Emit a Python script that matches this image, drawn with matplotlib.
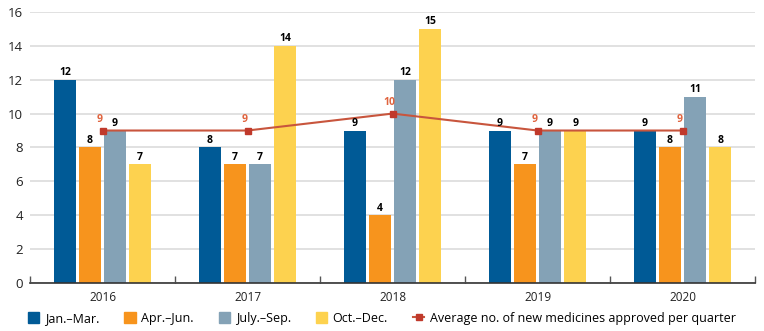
import numpy as np
import matplotlib
matplotlib.use("Agg")
import matplotlib.pyplot as plt
from matplotlib.lines import Line2D
from matplotlib.patches import Patch

plt.rcParams["font.family"] = ["Open Sans", "DejaVu Sans"]

# ----------------------
# Data: new medicines approved per quarter
# ----------------------
years = ["2016", "2017", "2018", "2019", "2020"]
quarters = ["Jan.–Mar.", "Apr.–Jun.", "July.–Sep.", "Oct.–Dec."]
jan_mar = [12, 8, 9, 9, 9]
apr_jun = [8, 7, 4, 7, 8]
jul_sep = [9, 7, 12, 9, 11]
oct_dec = [7, 14, 15, 9, 8]
average = [9, 9, 10, 9, 9]

colors = ["#005a96", "#f7941d", "#84a2b6", "#fdd24f"]
line_color = "#c8553d"
avg_label_color = "#e0643f"

fig = plt.figure(figsize=(7.64, 3.31), dpi=100)
ax = fig.add_axes([0.0393, 0.145, 0.949, 0.819])

x = np.arange(len(years))
width = 0.152
step = 0.173
offsets = (np.arange(4) - 1.5) * step

for i, (vals, col) in enumerate(zip([jan_mar, apr_jun, jul_sep, oct_dec], colors)):
    pos = x + offsets[i]
    ax.bar(pos, vals, width=width, color=col, zorder=2)
    for px, v in zip(pos, vals):
        ax.text(px, v + 0.1, str(v), ha="center", va="bottom",
                fontsize=7.5, fontweight="bold", color="black", zorder=4)

# Average line with value labels
ax.plot(x, average, color=line_color, lw=1.5, marker="s", ms=5,
        mfc="#c0392b", mec="#c0392b", zorder=3)
for px, v in zip(x, average):
    ax.text(px - 0.02, v + 0.3, str(v), ha="center", va="bottom",
            fontsize=7.5, fontweight="bold", color=avg_label_color, zorder=4)

ax.set_xlim(-0.5, len(years) - 0.5)
ax.set_ylim(0, 16)
ax.set_yticks(range(0, 17, 2))
ax.yaxis.grid(True, color="#dcdcdc", lw=1.2, zorder=0)
ax.set_axisbelow(True)

# category labels at centers, short ticks at group boundaries
ax.set_xticks(x)
ax.set_xticklabels(years, fontsize=8.5, color="#222222")
ax.tick_params(axis="x", length=0, pad=6)
ax.set_xticks(np.arange(-0.5, len(years)), minor=True)
ax.tick_params(axis="x", which="minor", direction="in", length=5,
               width=1, color="#555555")
ax.tick_params(axis="y", length=0, labelsize=9.5, labelcolor="#222222", pad=5)

for side in ["top", "right", "left"]:
    ax.spines[side].set_visible(False)
ax.spines["bottom"].set_color("#333333")
ax.spines["bottom"].set_linewidth(1.2)

handles = [Patch(color=c, label=q) for c, q in zip(colors, quarters)]
handles.append(Line2D([0], [0], color=line_color, lw=1.5, marker="s", ms=5,
                      mfc="#c0392b", mec="#c0392b",
                      label="Average no. of new medicines approved per quarter"))
fig.legend(handles=handles, loc="lower center", bbox_to_anchor=(0.5, -0.015),
           ncol=5, frameon=False, fontsize=9, handlelength=0.9,
           handleheight=0.9, columnspacing=2.0, handletextpad=0.45)

fig.savefig("out.png", dpi=100)
